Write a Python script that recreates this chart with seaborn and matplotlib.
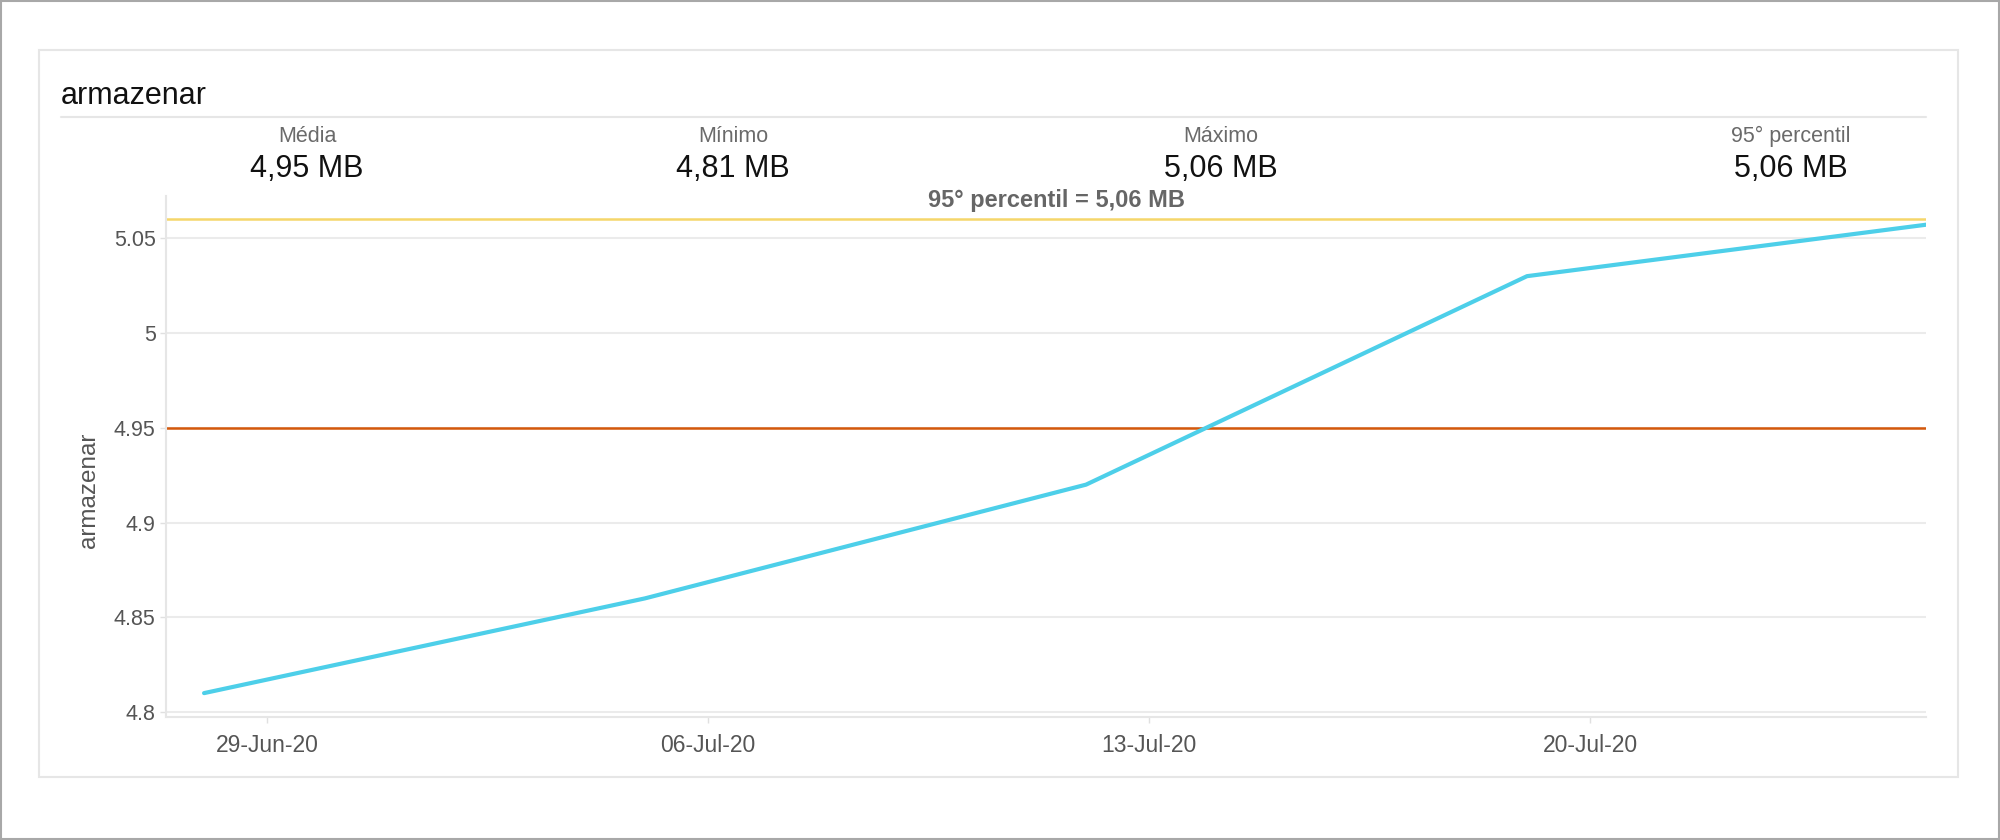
import pandas as pd
import seaborn as sns
import matplotlib.pyplot as plt
import matplotlib.dates as mdates
from matplotlib.patches import Rectangle
from matplotlib.lines import Line2D
from matplotlib.ticker import FuncFormatter

# dados da série "armazenar" (MB)
dates = ["2020-06-28", "2020-07-05", "2020-07-12", "2020-07-19", "2020-07-26"]
values = [4.81, 4.86, 4.92, 5.03, 5.06]

# resumo mostrado acima do gráfico
stat_names = ["Média", "Mínimo", "Máximo", "95° percentil"]
stat_values = ["4,95 MB", "4,81 MB", "5,06 MB", "5,06 MB"]
mean_value = 4.95
p95_value = 5.06
y_ticks = [4.8, 4.85, 4.9, 4.95, 5.0, 5.05]

df = pd.DataFrame({"data": pd.to_datetime(dates), "armazenar": values})

sns.set_theme(style="white")
plt.rcParams["font.family"] = ["Liberation Sans", "DejaVu Sans"]

W, H = 2000, 840
fig = plt.figure(figsize=(W / 100, H / 100), dpi=100)


def fx(px):
    return px / W


def fy(py):
    return 1 - py / H


# moldura externa e cartão
fig.patches.append(Rectangle((0.0005, 0.001), 0.999, 0.998, transform=fig.transFigure,
                             fill=False, edgecolor="#a8a8a8", linewidth=1.5))
fig.patches.append(Rectangle((fx(39), fy(777)), fx(1958) - fx(39), fy(50) - fy(777),
                             transform=fig.transFigure, fill=False,
                             edgecolor="#e6e6e6", linewidth=1.5))
fig.lines.append(Line2D([fx(61), fx(1926)], [fy(117), fy(117)], transform=fig.transFigure,
                        color="#e6e6e6", linewidth=1.5))

fig.text(fx(61), fy(104), "armazenar", fontsize=22, color="#111111", va="baseline")

stat_x = [307, 733, 1221, 1791]
for name, val, px in zip(stat_names, stat_values, stat_x):
    fig.text(fx(px), fy(136), name, fontsize=15.5, color="#6a6a6a", ha="center", va="center")
    fig.text(fx(px), fy(169), val, fontsize=22, color="#111111", ha="center", va="center")

# eixo principal
ax = fig.add_axes([fx(166), fy(717), fx(1926) - fx(166), fy(196) - fy(717)])
sns.lineplot(data=df, x="data", y="armazenar", ax=ax, color="#4dcfe9", linewidth=3)

ax.axhline(p95_value, color="#f5d66b", linewidth=1.8, zorder=1)
ax.axhline(mean_value, color="#d4580b", linewidth=1.8, zorder=1)
fig.text(fx(1057), fy(200), "95° percentil = 5,06 MB", fontsize=17, fontweight="bold",
         color="#666666", ha="center", va="center")

ax.set_xlim(pd.Timestamp("2020-06-27 09:30"), pd.Timestamp("2020-07-25 08:00"))
ax.set_ylim(4.7974, 5.0723)
ax.set_yticks(y_ticks)
ax.yaxis.set_major_formatter(FuncFormatter(lambda v, _: f"{v:g}"))
ax.xaxis.set_major_locator(mdates.WeekdayLocator(byweekday=mdates.MO))
ax.xaxis.set_major_formatter(mdates.DateFormatter("%d-%b-%y"))

ax.grid(axis="y", color="#ebebeb", linewidth=1.5)
ax.grid(axis="x", visible=False)
for side in ["top", "right"]:
    ax.spines[side].set_visible(False)
for side in ["left", "bottom"]:
    ax.spines[side].set_color("#e6e6e6")
    ax.spines[side].set_linewidth(1.5)

ax.tick_params(axis="y", length=4.5, width=1, color="#e0e0e0", pad=3,
               labelsize=15.5, labelcolor="#555555", left=True)
ax.tick_params(axis="x", length=4.5, width=1, color="#e0e0e0", pad=8,
               labelsize=16.5, labelcolor="#555555", bottom=True)

ax.set_xlabel("")
ax.set_ylabel("armazenar", fontsize=17.5, color="#555555", labelpad=10)
ax.yaxis.label.set_y(0.436)

fig.savefig("out.png", dpi=100)
